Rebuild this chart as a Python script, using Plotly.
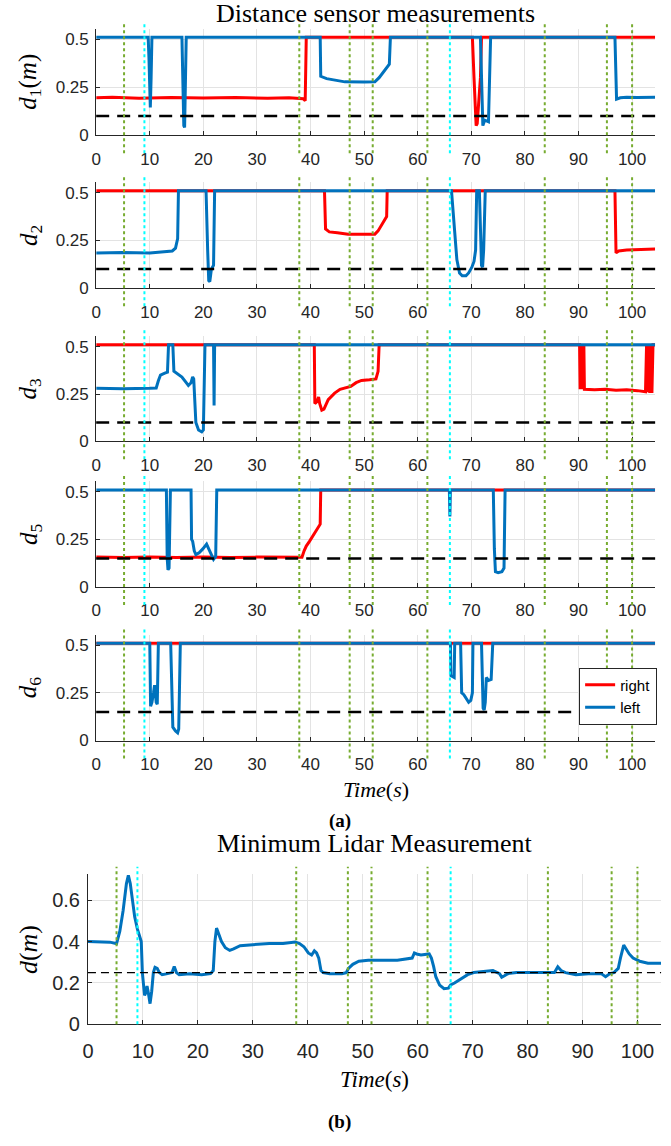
import plotly.graph_objects as go

# ---------------- data ----------------
# vertical event markers (s)
events_green = [5.2, 37.9, 47.3, 51.6, 61.8, 83.7, 95.3, 100.0]
events_cyan = [9.0, 66.0]

thresholds_a = [0.1, 0.1, 0.1, 0.15, 0.15]
threshold_b = 0.25

panel_names = ["1", "2", "3", "5", "6"]

# d1
d1_right = [(0, 0.195), (3, 0.198), (8, 0.193), (14, 0.197), (20, 0.194), (26, 0.196), (32, 0.193),
            (36, 0.195), (38.6, 0.19), (39.0, 0.18), (39.2, 0.51), (70.2, 0.51), (70.5, 0.3),
            (70.9, 0.05), (71.1, 0.06), (71.4, 0.2), (71.7, 0.3), (71.9, 0.51), (104.3, 0.51)]
d1_left = [(0, 0.51), (9.7, 0.51), (9.85, 0.4), (10.0, 0.17), (10.1, 0.145), (10.25, 0.3), (10.4, 0.51),
           (16.0, 0.51), (16.2, 0.25), (16.35, 0.05), (16.5, 0.04), (16.65, 0.2), (16.8, 0.51),
           (41.8, 0.51), (41.9, 0.307), (43.0, 0.295), (44.9, 0.285), (46.4, 0.278), (50, 0.277),
           (52.0, 0.278), (52.8, 0.3), (53.6, 0.33), (54.7, 0.37), (54.9, 0.51),
           (71.7, 0.51), (72.15, 0.05), (72.5, 0.078), (73.2, 0.07), (73.6, 0.51),
           (96.8, 0.51), (97.1, 0.188), (97.8, 0.195), (99, 0.198), (101, 0.196), (104.3, 0.198)]
# d2
d2_right = [(0, 0.51), (42.6, 0.51), (42.8, 0.31), (43.5, 0.295), (45, 0.29), (47, 0.283), (50, 0.282),
            (52, 0.283), (52.6, 0.3), (53.3, 0.33), (54.0, 0.36), (54.2, 0.375), (54.3, 0.51),
            (96.8, 0.51), (97.0, 0.185), (97.5, 0.195), (99, 0.2), (101, 0.203), (104.3, 0.205)]
d2_left = [(0, 0.185), (5, 0.187), (10, 0.185), (13, 0.19), (14.2, 0.195), (14.8, 0.21), (15.2, 0.26),
           (15.35, 0.51), (20.5, 0.51), (20.8, 0.2), (21.0, 0.04), (21.2, 0.035), (21.5, 0.1),
           (21.9, 0.12), (22.1, 0.51), (66.3, 0.51), (66.6, 0.4), (66.9, 0.3), (67.3, 0.15),
           (67.8, 0.08), (68.3, 0.065), (69, 0.065), (69.5, 0.08), (70.1, 0.11), (70.5, 0.14),
           (70.8, 0.2), (71.0, 0.51), (71.5, 0.51), (71.7, 0.25), (71.9, 0.12), (72.1, 0.11),
           (72.3, 0.2), (72.6, 0.51), (104.3, 0.51)]
# d3
d3_right = [(0, 0.51), (40.7, 0.51), (40.8, 0.2), (41.2, 0.21), (41.5, 0.235), (41.7, 0.2), (42.1, 0.165),
            (42.5, 0.17), (43.3, 0.22), (44.5, 0.255), (45.5, 0.275), (46.5, 0.282), (47.5, 0.29),
            (48.5, 0.31), (49.5, 0.322), (51, 0.325), (52.2, 0.33), (52.6, 0.37), (52.8, 0.51),
            (90.2, 0.51), (90.3, 0.275), (90.45, 0.51), (90.6, 0.275), (90.75, 0.51), (90.9, 0.28),
            (91.0, 0.51), (91.1, 0.275), (93, 0.272), (95, 0.275), (97, 0.27), (99, 0.272),
            (101, 0.268), (102.5, 0.262), (102.7, 0.51), (102.9, 0.26), (103.1, 0.51), (103.3, 0.255),
            (103.5, 0.51), (103.7, 0.255), (103.9, 0.51), (104.3, 0.51)]
d3_left = [(0, 0.28), (5, 0.278), (10, 0.28), (11.2, 0.282), (11.6, 0.32), (12.0, 0.35), (12.8, 0.36),
           (13.3, 0.365), (13.5, 0.51), (14.3, 0.51), (14.5, 0.37), (15.2, 0.355), (16, 0.34),
           (16.8, 0.31), (17.2, 0.295), (17.7, 0.31), (18.0, 0.34), (18.2, 0.33), (18.4, 0.2),
           (18.6, 0.1), (19.1, 0.06), (19.7, 0.05), (20.0, 0.06), (20.3, 0.51), (21.9, 0.51),
           (22.0, 0.19), (22.1, 0.51), (104.3, 0.51)]
# d5
d5_right = [(0, 0.157), (5, 0.155), (10, 0.158), (15, 0.155), (20, 0.157), (25, 0.155), (30, 0.157),
            (35, 0.155), (38.4, 0.156), (38.8, 0.19), (39.2, 0.215), (39.8, 0.24), (40.5, 0.27),
            (41.1, 0.3), (41.6, 0.32), (41.8, 0.33), (41.9, 0.51), (104.3, 0.51)]
d5_left = [(0, 0.51), (13.1, 0.51), (13.25, 0.15), (13.4, 0.09), (13.6, 0.1), (13.85, 0.51),
           (17.7, 0.51), (17.8, 0.25), (18.0, 0.24), (18.3, 0.19), (18.6, 0.17), (19.2, 0.18),
           (19.9, 0.2), (20.6, 0.225), (21.0, 0.2), (21.5, 0.165), (21.9, 0.145), (22.3, 0.16),
           (22.5, 0.51), (65.9, 0.51), (66.0, 0.37), (66.1, 0.51), (74.1, 0.51), (74.3, 0.2),
           (74.5, 0.08), (75, 0.075), (75.7, 0.08), (76.1, 0.1), (76.3, 0.51), (104.3, 0.51)]
# d6
d6_right = [(0, 0.51), (104.3, 0.51)]
d6_left = [(0, 0.51), (10.0, 0.51), (10.15, 0.18), (10.4, 0.2), (10.7, 0.25), (10.9, 0.29), (11.0, 0.26),
           (11.2, 0.2), (11.4, 0.19), (11.6, 0.51), (13.9, 0.51), (14.1, 0.2), (14.3, 0.07),
           (14.8, 0.05), (15.2, 0.04), (15.4, 0.06), (15.7, 0.51), (66.1, 0.51), (66.2, 0.34),
           (66.8, 0.33), (66.9, 0.51), (68.0, 0.51), (68.2, 0.25), (68.6, 0.24), (69.2, 0.21),
           (69.5, 0.2), (69.9, 0.21), (70.2, 0.25), (70.3, 0.51), (71.9, 0.51), (72.2, 0.17),
           (72.4, 0.16), (72.6, 0.2), (72.8, 0.33), (73.2, 0.315), (73.7, 0.32), (74.0, 0.51),
           (104.3, 0.51)]

right_series = [d1_right, d2_right, d3_right, d5_right, d6_right]
left_series = [d1_left, d2_left, d3_left, d5_left, d6_left]

# minimum lidar measurement
lidar = [(0, 0.40), (2, 0.398), (4, 0.397), (5.2, 0.39), (5.8, 0.45), (6.4, 0.55), (7.0, 0.68),
         (7.35, 0.72), (7.7, 0.68), (8.1, 0.60), (8.5, 0.52), (9.0, 0.46), (9.4, 0.42), (9.7, 0.40),
         (9.9, 0.25), (10.1, 0.17), (10.3, 0.14), (10.5, 0.15), (10.75, 0.185), (11.0, 0.15),
         (11.3, 0.10), (11.6, 0.16), (11.9, 0.25), (12.2, 0.275), (12.6, 0.27), (13.0, 0.25),
         (13.5, 0.24), (14.5, 0.245), (15.3, 0.25), (15.7, 0.28), (16.1, 0.25), (16.6, 0.24),
         (18.5, 0.245), (20.7, 0.24), (22.3, 0.245), (22.8, 0.26), (23.1, 0.40), (23.4, 0.465),
         (23.7, 0.44), (24.3, 0.40), (25.0, 0.37), (25.8, 0.357), (26.5, 0.365), (27.7, 0.38),
         (30, 0.385), (33, 0.39), (35.5, 0.39), (37.7, 0.398), (38.5, 0.39), (39.3, 0.375),
         (40.1, 0.345), (40.7, 0.335), (41.2, 0.355), (41.6, 0.345), (42.0, 0.32), (42.4, 0.26),
         (42.8, 0.25), (44, 0.245), (46.2, 0.245), (47.0, 0.25), (47.4, 0.27), (48.2, 0.29),
         (49.3, 0.305), (51, 0.31), (53.2, 0.31), (56.3, 0.31), (59.0, 0.32), (59.4, 0.345),
         (59.8, 0.34), (60.6, 0.335), (62.1, 0.34), (62.5, 0.32), (62.9, 0.28), (63.3, 0.23),
         (64.0, 0.19), (64.8, 0.172), (65.6, 0.175), (66.0, 0.19), (66.7, 0.2), (67.9, 0.22),
         (69.1, 0.24), (70.2, 0.25), (72.5, 0.255), (73.7, 0.26), (74.9, 0.245), (75.3, 0.228),
         (75.8, 0.235), (76.4, 0.245), (78, 0.25), (80.3, 0.25), (83.4, 0.25), (84.9, 0.25),
         (85.5, 0.278), (86.1, 0.26), (86.9, 0.25), (88.8, 0.24), (91.1, 0.245), (93.4, 0.245),
         (94.2, 0.23), (95.0, 0.245), (95.7, 0.25), (96.5, 0.27), (96.9, 0.32), (97.5, 0.383),
         (97.8, 0.37), (98.5, 0.34), (99.2, 0.32), (100.4, 0.305), (101.9, 0.295), (104.3, 0.295)]

x_ticks = list(range(0, 101, 10))
y_ticks_a = [0, 0.25, 0.5]
y_ticklabels_a = ["0", "0.25", "0.5"]
y_ticks_b = [0, 0.2, 0.4, 0.6]
y_ticklabels_b = ["0", "0.2", "0.4", "0.6"]

# ---------------- style / layout ----------------
W, H = 671, 1146
RED = "#FF0000"
BLUE = "#0072BD"
GREEN = "#77AC30"
CYAN = "#00FFFF"
AXC = "#262626"
GRID = "#E3E3E3"
SANS = "Liberation Sans"
SERIF = "Liberation Serif"

# panel pixel boxes (top, bottom) and x extents
panels_px = [(29, 136.5), (184, 291), (339.5, 445.7), (486, 592.7), (640.7, 747.7)]
xa_px = (91, 655)
pb_px = (882.7, 1034.3)
xb_px = (82.7, 661)

def ydom(top, bot):
    return [1 - bot / H, 1 - top / H]

fig = go.Figure()
layout = dict(width=W, height=H, autosize=False, margin=dict(l=0, r=0, t=0, b=0),
              paper_bgcolor="white", plot_bgcolor="white", showlegend=True)

shapes = []
annotations = []

def axis_common(n_font):
    return dict(showgrid=True, gridcolor=GRID, gridwidth=1, showline=True, linecolor=AXC,
                linewidth=1, ticks="inside", ticklen=4, tickcolor=AXC, zeroline=False,
                tickfont=dict(family=SANS, size=n_font, color=AXC))

for i in range(5):
    k = "" if i == 0 else str(i + 1)
    xa, ya = "x" + k, "y" + k
    top, bot = panels_px[i]
    xaxis = axis_common(17)
    xaxis.update(domain=[xa_px[0] / W, xa_px[1] / W], range=[0, 104.3], tickvals=x_ticks,
                 anchor=ya, ticklabelstandoff=8)
    yaxis = axis_common(17)
    yaxis.update(domain=ydom(top, bot), range=[0, 0.555], tickvals=y_ticks_a,
                 ticktext=y_ticklabels_a, anchor=xa, ticklabelstandoff=3)
    layout["xaxis" + k] = xaxis
    layout["yaxis" + k] = yaxis

    rt = right_series[i]
    lt = left_series[i]
    fig.add_trace(go.Scatter(x=[p[0] for p in rt], y=[p[1] for p in rt], mode="lines",
                             line=dict(color=RED, width=3), name="right", xaxis=xa, yaxis=ya,
                             showlegend=(i == 4), legendrank=1))
    fig.add_trace(go.Scatter(x=[p[0] for p in lt], y=[p[1] for p in lt], mode="lines",
                             line=dict(color=BLUE, width=3), name="left", xaxis=xa, yaxis=ya,
                             showlegend=(i == 4), legendrank=2))
    # threshold
    shapes.append(dict(type="line", xref=xa + " domain", yref=ya, x0=0, x1=1,
                       y0=thresholds_a[i], y1=thresholds_a[i],
                       line=dict(color="black", width=2.5, dash="13px,8px")))
    for t in events_green:
        shapes.append(dict(type="line", xref=xa, yref=ya + " domain", x0=t, x1=t, y0=-0.17, y1=1.07,
                           line=dict(color=GREEN, width=2, dash="dot")))
    for t in events_cyan:
        shapes.append(dict(type="line", xref=xa, yref=ya + " domain", x0=t, x1=t, y0=-0.17, y1=1.07,
                           line=dict(color=CYAN, width=2, dash="dot")))
    annotations.append(dict(text="<i>d</i><sub>%s</sub>%s" % (panel_names[i], "(<i>m</i>)" if i == 0 else ""),
                            xref="paper", yref=ya + " domain", x=24 / W, y=0.5, textangle=-90,
                            showarrow=False, xanchor="center", yanchor="middle",
                            font=dict(family=SERIF, size=25, color="black")))

# bottom panel
xaxis = axis_common(20)
xaxis.update(domain=[xb_px[0] / W, xb_px[1] / W], range=[0, 104.3], tickvals=x_ticks, anchor="y6",
             ticklabelstandoff=9)
yaxis = axis_common(20)
yaxis.update(domain=ydom(*pb_px), range=[0, 0.725], tickvals=y_ticks_b, ticktext=y_ticklabels_b,
             anchor="x6", ticklabelstandoff=3)
layout["xaxis6"] = xaxis
layout["yaxis6"] = yaxis
fig.add_trace(go.Scatter(x=[p[0] for p in lidar], y=[p[1] for p in lidar], mode="lines",
                         line=dict(color=BLUE, width=3), xaxis="x6", yaxis="y6", showlegend=False))
shapes.append(dict(type="line", xref="x6 domain", yref="y6", x0=0, x1=1, y0=threshold_b, y1=threshold_b,
                   line=dict(color="black", width=1.3, dash="8px,5px")))
for t in events_green:
    shapes.append(dict(type="line", xref="x6", yref="y6 domain", x0=t, x1=t, y0=0, y1=1.05,
                       line=dict(color=GREEN, width=2, dash="dot")))
for t in events_cyan:
    shapes.append(dict(type="line", xref="x6", yref="y6 domain", x0=t, x1=t, y0=0, y1=1.05,
                       line=dict(color=CYAN, width=2, dash="dot")))
annotations.append(dict(text="<i>d</i>(<i>m</i>)", xref="paper", yref="y6 domain", x=22 / W, y=0.5,
                        textangle=-90, showarrow=False, xanchor="center", yanchor="middle",
                        font=dict(family=SERIF, size=26, color="black")))

# titles and labels
annotations += [
    dict(text="Distance sensor measurements", xref="x domain", yref="paper", x=0.5, y=1 - 13.5 / H,
         showarrow=False, yanchor="middle", font=dict(family=SERIF, size=26, color="black")),
    dict(text="<i>Time</i>(<i>s</i>)", xref="x5 domain", yref="paper", x=0.5, y=1 - 797 / H,
         showarrow=False, yanchor="middle", font=dict(family=SERIF, size=22, color="black")),
    dict(text="<b>(a)</b>", xref="paper", yref="paper", x=337 / W, y=1 - 829 / H,
         showarrow=False, yanchor="middle", font=dict(family=SERIF, size=19, color="black")),
    dict(text="Minimum Lidar Measurement", xref="x6 domain", yref="paper", x=0.5, y=1 - 852 / H,
         showarrow=False, yanchor="middle", font=dict(family=SERIF, size=26, color="black")),
    dict(text="<i>Time</i>(<i>s</i>)", xref="x6 domain", yref="paper", x=0.5, y=1 - 1090 / H,
         showarrow=False, yanchor="middle", font=dict(family=SERIF, size=23, color="black")),
    dict(text="<b>(b)</b>", xref="paper", yref="paper", x=337 / W, y=1 - 1133 / H,
         showarrow=False, yanchor="middle", font=dict(family=SERIF, size=19, color="black")),
]

layout["shapes"] = shapes
layout["annotations"] = annotations
layout["legend"] = dict(x=657 / W, xanchor="right", y=1 - 674 / H, yanchor="top",
                        bgcolor="white", bordercolor=AXC, borderwidth=1,
                        font=dict(family=SANS, size=15, color="black"), tracegroupgap=0)
fig.update_layout(**layout)
fig.write_html("out.html")
